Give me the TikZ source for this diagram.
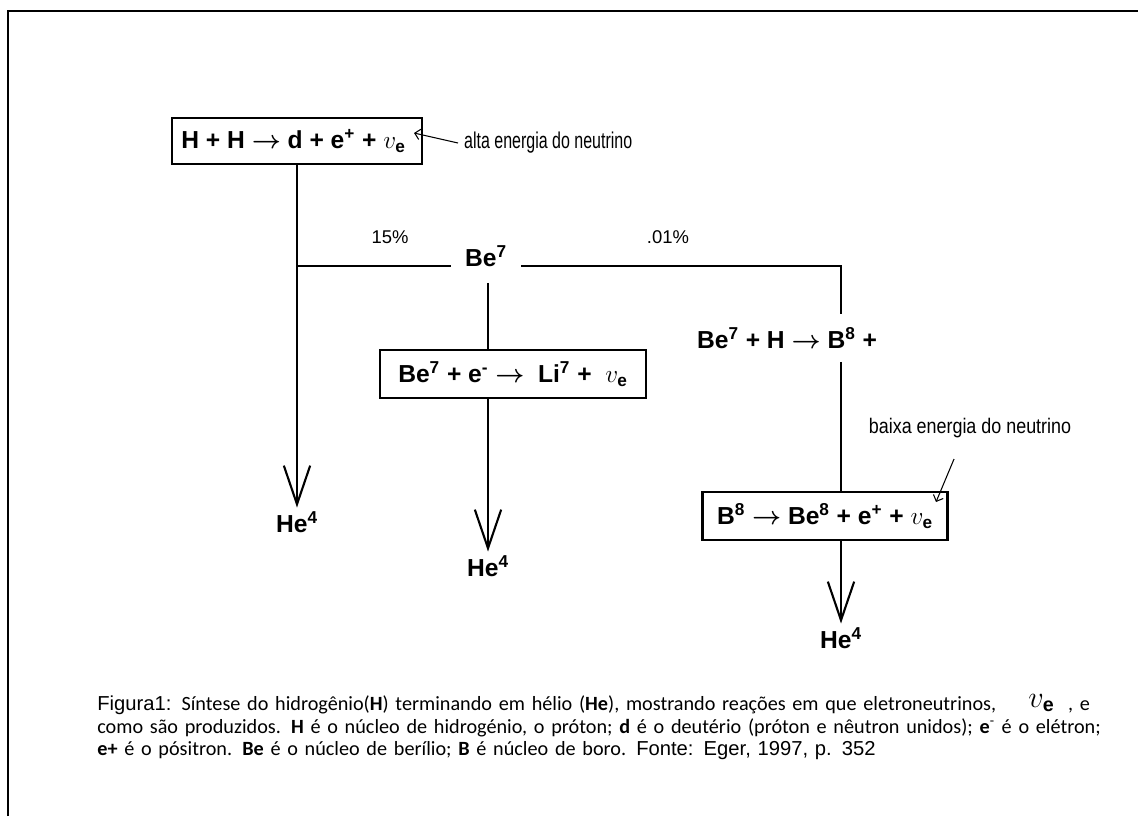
\documentclass[tikz,border=0pt]{standalone}
\usepackage{fontspec}
\setmainfont{Liberation Sans}
\newfontfamily\capfont{Carlito}
\newfontfamily\narrowfont[FakeStretch=0.7]{Liberation Sans}
\newfontfamily\semifont[FakeStretch=0.85]{Liberation Sans}
\usetikzlibrary{arrows.meta}
\newcommand{\reactarrow}{{\boldmath$\rightarrow$}}

\begin{document}
\begin{tikzpicture}[x=0.02cm,y=-0.02cm]
        \tikzstyle{reaction}=[rectangle,draw=black,line width=1.4pt,inner sep=0pt,font=\bfseries\fontsize{14}{16}\selectfont]
        \tikzstyle{species}=[inner sep=2pt,font=\bfseries\fontsize{14}{16}\selectfont]
        \tikzstyle{pct}=[font=\fontsize{10.5}{12}\selectfont]
        \tikzstyle{link}=[draw,line width=1.2pt]
        \tikzstyle{flow}=[draw,line width=1.2pt,-{Straight Barb[length=22pt,width=15pt,line width=1.2pt]}]
        \tikzstyle{pointer}=[draw,line width=0.6pt,-{Straight Barb[length=3pt,width=6pt]}]
        \useasboundingbox (0,0) rectangle (1138,816);
        \draw[line width=1.6pt] (8,816) |- (1138,11);
        \begin{scope}
                % reactions
                \node [reaction,minimum width=5cm,minimum height=0.92cm] (r1) at (297,141) {H + H \reactarrow{} d + e\textsuperscript{+} + $v_{\mathbf e}$\ \ };
                \node [species,inner xsep=8pt] (be7) at (486,256) {Be\textsuperscript{7}};
                \node [reaction,minimum width=5.32cm,minimum height=0.96cm] (r2) at (513,374) {Be\textsuperscript{7} + e\textsuperscript{-} \reactarrow\ \ Li\textsuperscript{7} +\ \ $v_{\mathbf e}$};
                \node [species,minimum height=0.94cm] (bh) at (787,338) {Be\textsuperscript{7} + H \reactarrow{} B\textsuperscript{8} +};
                \node [reaction,minimum width=4.9cm,minimum height=0.96cm] (r3) at (825,516) {B\textsuperscript{8} \reactarrow{} Be\textsuperscript{8} + e\textsuperscript{+} + $v_{\mathbf e}$};
                % products
                \node [species] (he1) at (297,522) {He\textsuperscript{4}};
                \node [species] (he2) at (488,566) {He\textsuperscript{4}};
                \node [species] (he3) at (841,638) {He\textsuperscript{4}};
                % branch labels
                \node [pct] (p15) at (390,237) {15\%};
                \node [pct] (p01) at (668,237) {.01\%};
                \node [anchor=west,font=\narrowfont\fontsize{13}{15}\selectfont] (alta) at (458,143) {alta energia do neutrino};
                \node [font=\semifont\fontsize{12}{14}\selectfont] (baixa) at (970,428) {baixa energia do neutrino};
                \coordinate (altatip) at (414,133);
                \coordinate (baixatip) at (936,502);
                % connectors
                \path[flow] (r1.south) -- (he1.north);
                \path[link] (be7.base west) -- (be7.base west -| r1.south);
                \path[link,shorten <=7pt] (be7.south -| he2) -- (r2.north -| he2);
                \path[flow] (r2.south -| he2) -- (he2.north);
                \path[link] (be7.base east) -| (bh.north -| he3);
                \path[link] (bh.south -| he3) -- (r3.north -| he3);
                \path[flow] (r3.south -| he3) -- (he3.north);
                \path[pointer] (alta.west) -- (altatip);
                \path[pointer] ([xshift=-0.32cm,yshift=-0.3cm]baixa.south) -- (baixatip);
        \end{scope}
        % caption
        \node [anchor=north west,inner sep=0pt,text width=21cm,align=left,font=\capfont\fontsize{11.5}{12.6}\selectfont] (cap) at (97,694) {%
                {\rmfamily\fontsize{11.5}{12.6}\selectfont Figura1:} Síntese do hidrogênio(\textbf{H}) terminando em hélio (\textbf{He}), mostrando reações em que eletroneutrinos,\hspace{1.6em}\raisebox{2pt}{\fontsize{16}{16}\selectfont$v_{\mathbf e}$}\ \ , e\\
                como são produzidos. \textbf{H} é o núcleo de hidrogénio, o próton; \textbf{d} é o deutério (próton e nêutron unidos); \textbf{e}\textsuperscript{-} é o elétron;\\
                \textbf{e+} é o pósitron. \textbf{Be} é o núcleo de berílio; \textbf{B} é núcleo de boro. {\rmfamily\fontsize{11.5}{12.6}\selectfont Fonte: Eger, 1997, p. 352}};
\end{tikzpicture}
\end{document}
